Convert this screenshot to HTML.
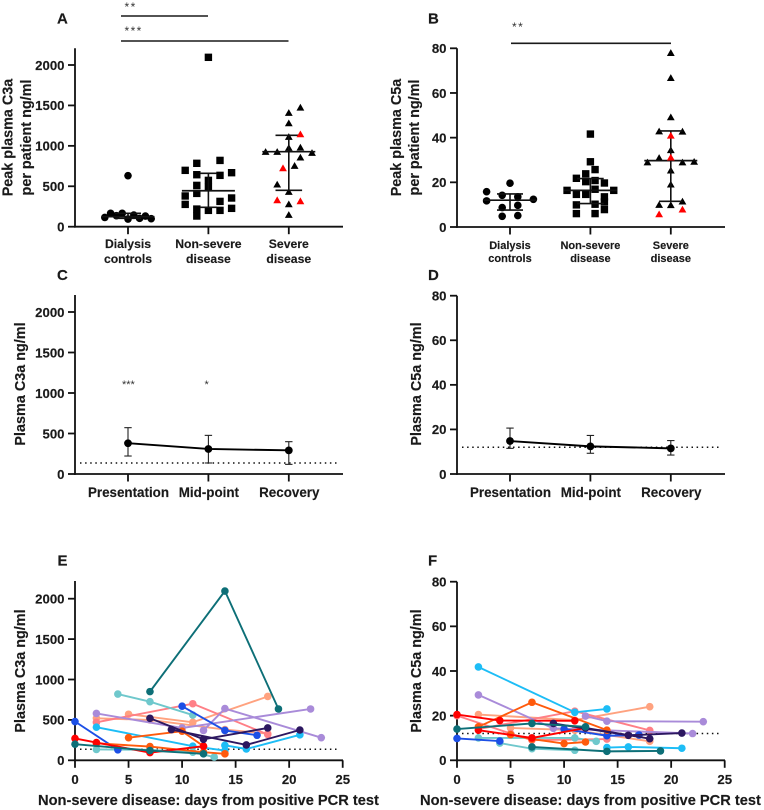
<!DOCTYPE html>
<html lang="en">
<head>
<meta charset="utf-8">
<title>Plasma C3a and C5a panels</title>
<style>
html,body{margin:0;padding:0;background:#fff;}
svg{display:block;font-family:"Liberation Sans",sans-serif;}
text{fill:#1a1a1a;font-weight:bold;stroke:#1a1a1a;stroke-width:.15px;}
.letter{font-size:15px;}
.ytitle{font-size:14.4px;text-anchor:middle;}
.xtitle{font-size:14.65px;}
.stars{font-size:12px;font-weight:normal;letter-spacing:1.4px;fill:#333;stroke:none;}
.stars-tight{font-size:11px;font-weight:normal;fill:#333;stroke:none;}
.tick{font-size:13.2px;}
.cat-a{font-size:12.2px;text-anchor:middle;}
.cat-b{font-size:11px;text-anchor:middle;}
.cat-c{font-size:13.4px;text-anchor:middle;}
</style>
</head>
<body>
<svg id="figure" xmlns="http://www.w3.org/2000/svg" width="764" height="810" viewBox="0 0 764 810">
  <rect width="764" height="810" fill="#fff"/>

  <text class="letter" x="57" y="23.5">A</text>
  <text class="letter" x="428" y="23.5">B</text>
  <text class="letter" x="57" y="280">C</text>
  <text class="letter" x="428" y="280">D</text>
  <text class="letter" x="57.5" y="565.5">E</text>
  <text class="letter" x="428" y="565.5">F</text>

  <text class="ytitle" transform="translate(12.5,137.5) rotate(-90)">Peak plasma C3a</text>
  <text class="ytitle" transform="translate(31,137.5) rotate(-90)">per patient ng/ml</text>
  <text class="ytitle" transform="translate(401,137.5) rotate(-90)">Peak plasma C5a</text>
  <text class="ytitle" transform="translate(419,137.5) rotate(-90)">per patient ng/ml</text>
  <text class="ytitle" transform="translate(25,384) rotate(-90)">Plasma C3a ng/ml</text>
  <text class="ytitle" transform="translate(421,384) rotate(-90)">Plasma C5a ng/ml</text>
  <text class="ytitle" transform="translate(25,671) rotate(-90)">Plasma C3a ng/ml</text>
  <text class="ytitle" transform="translate(421,671) rotate(-90)">Plasma C5a ng/ml</text>

  <text class="xtitle" x="38" y="805">Non-severe disease: days from positive PCR test</text>
  <text class="xtitle" x="420" y="805">Non-severe disease: days from positive PCR test</text>

  <text class="stars" x="124.5" y="11">**</text>
  <line x1="121" y1="16" x2="208" y2="16" stroke="#1a1a1a" stroke-width="1.6"/>
  <text class="stars" x="124.5" y="35">***</text>
  <line x1="121" y1="41" x2="288.5" y2="41" stroke="#1a1a1a" stroke-width="1.6"/>
  <text class="stars" x="512" y="31">**</text>
  <line x1="511" y1="43.3" x2="671" y2="43.3" stroke="#1a1a1a" stroke-width="1.6"/>
  <text class="stars-tight" x="122" y="388">***</text>
  <text class="stars-tight" x="204.5" y="388">*</text>
</svg>

<script>
/* ---------- Shared tick labels and categories ---------- */
const c3aTicks = [0, 500, 1000, 1500, 2000];
const c5aTicks = [0, 20, 40, 60, 80];
const groupLabels = [["Dialysis", "controls"], ["Non-severe", "disease"], ["Severe", "disease"]];
const timepointLabels = ["Presentation", "Mid-point", "Recovery"];
const dayTicks = [0, 5, 10, 15, 20, 25];

/* ---------- Panel A values, listed by swarm lane (left to right) ---------- */
const peakC3aDialysis = [[115], [165], [136], [165], [631, 95], [144], [103], [132], [99]];
const peakC3aNonSevere = [[697, 380, 276], [], [784, 643, 511, 412, 218, 132], [], [2095, 573, 486, 202], [], [820, 635, 313, 202], [], [668, 355, 227]];
const peakC3aSevere = [[928], [], [928, 524], [], [1410, 1282, 1113, 977, 433, 280, 148], [755], [1476, 981, 858], [], [915]];
const peakC3aSevereRed = [[], [], [330], [726], [], [], [318, 1146], [], []];
const peakC3aMedian = [124, 445, 928];
const peakC3aUpper = [165, 660, 1130];
const peakC3aLower = [103, 240, 450];

/* ---------- Panel B values, listed by swarm lane ---------- */
const peakC5aDialysis = [[15.8, 11.7], [], [14.2, 8.7, 4.8], [19.6], [13.5, 9.7, 5.1], [], [12.4]];
const peakC5aNonSevere = [[16.4], [], [21.8, 14.6, 9.9, 6], [], [23.8, 20.3, 14.6], [41.6, 29.2], [25.7, 20.8, 16.9, 10.2, 6], [], [19.7, 13.5, 11.2, 7.8], [], [16.4]];
const peakC5aSevere = [[29], [42.9, 31, 10], [78, 66.8, 49.2, 34.5, 25.4, 19.1, 9.9], [42.8, 29, 11.5], [29.3]];
const peakC5aSevereRed = [[], [5.8], [41, 31.2], [7.9], []];
const peakC5aMedian = [12, 16.4, 29.7];
const peakC5aUpper = [14.8, 21.7, 43];
const peakC5aLower = [7.6, 10.5, 11.5];

/* ---------- Panels C and D ---------- */
const c3aTimeMean = [380, 309, 292];
const c3aTimeUpper = [572, 477, 399];
const c3aTimeLower = [222, 136, 119];
const c3aControlLevel = [136];
const c5aTimeMean = [14.8, 12.4, 11.5];
const c5aTimeUpper = [20.6, 17.3, 15];
const c5aTimeLower = [11.5, 9.3, 8.5];
const c5aControlLevel = [12];

/* ---------- Panel E patient trajectories ---------- */
const c3aDays = [[5,11,18],[2,7,14,18],[2,11,18],[2,10,22],[12,14,23],[2,11,14],[14,16,21],[4,7,11],[2,7,11,13],[0,4],[10,14,17],[5,10,12],[2,7,12,14],[0,2,7,12],[7,12,18],[9,16,21],[7,14,19],[0,7,12]];
const c3aValues = [[570,470,790],[520,500,380,330],[470,700,320],[580,400,635],[370,640,280],[410,175,120],[185,140,315],[820,725,560],[135,130,100,40],[480,130],[670,370,310],[280,360,175],[210,170,100,80],[270,220,95,175],[520,260,400],[380,190,375],[850,2095,635],[200,120,80]];

/* ---------- Panel F patient trajectories ---------- */
const c5aDays = [[2,11,18],[5,11,18],[2,11,18],[0,5,7,14],[2,9,22],[12,14,23],[2,11,14],[14,16,21],[4,7,11],[2,7,11,13],[0,4],[10,14,17],[2,7,14],[5,7,10,12],[2,7,12],[0,4,11],[9,16,21],[12,18],[0,7,12],[7,14,19]];
const c5aValues = [[20.5,18,24],[14.5,13.5,8.5],[14,22,13.4],[20,12,9,9.5],[29.3,14.3,12],[19.8,17.5,17.3],[41.8,21.5,23],[5.7,6,5.4],[7.7,5.2,4.5],[10,10,10,8.5],[9.8,8.6],[14,11,11.3],[15,26,13.5],[11.5,9.5,7.5,8.2],[13.5,10,14.5],[20.5,17.8,17.7],[16.5,11.2,12.2],[14.5,9.7],[14,16.5,15],[6,4,4.2]];

/* ---------- Colours, kept apart from the data ---------- */
const PEACH = "#ffa27f", PINK = "#ff7f86", LAV = "#a98bd9", CYAN = "#1dbdf6", LTEAL = "#6fc8cc",
      BLUE = "#1c4fe6", ORANGE = "#ff5a0c", RED = "#ff0000", DARK = "#2c1760", TEAL = "#0d6f77";
const c3aColors = [PEACH,PEACH,PINK,LAV,LAV,CYAN,CYAN,LTEAL,LTEAL,BLUE,BLUE,ORANGE,ORANGE,RED,DARK,DARK,TEAL,TEAL];
const c5aColors = [PEACH,PEACH,PINK,PINK,LAV,LAV,CYAN,CYAN,LTEAL,LTEAL,BLUE,BLUE,ORANGE,ORANGE,RED,RED,DARK,DARK,TEAL,TEAL];

/* ---------- Drawing helpers ---------- */
const SVG_NS = "http://www.w3.org/2000/svg";
const INK = "#111";
const AXIS_WIDTH = 1.8;
const svg = document.getElementById("figure");

function add(tag, attrs, name) {
  const node = document.createElementNS(SVG_NS, tag);
  for (const key in attrs) node.setAttribute(key, attrs[key]);
  
  
  svg.appendChild(node);
  return node;
}
function label(str, x, y, cls, anchor, name) {
  const node = add("text", { x: x, y: y, class: cls, "text-anchor": anchor }, name);
  node.textContent = str;
  return node;
}
function linearY(y0, yAtTop, topValue) {
  return function (v) { return y0 - (v / topValue) * (y0 - yAtTop); };
}
function bandX(left) {
  return function (i) { return left + 53 + i * 80.4; };
}
function linearX(left, right, maxValue) {
  return function (v) { return left + (v / maxValue) * (right - left); };
}
function drawFrame(key, left, y0, axisTop, y, ticks) {
  add("line", { x1: left, y1: axisTop, x2: left, y2: y0 + 0.9, stroke: INK, "stroke-width": AXIS_WIDTH }, "y-axis-" + key);
  add("line", { x1: left - 0.9, y1: y0, x2: left + 268, y2: y0, stroke: INK, "stroke-width": AXIS_WIDTH }, "x-axis-" + key);
  ticks.forEach(function (t) {
    add("line", { x1: left - 7, y1: y(t), x2: left, y2: y(t), stroke: INK, "stroke-width": AXIS_WIDTH }, "y-tick-" + key + "-" + t);
    label(String(t), left - 10.5, y(t) + 4.8, "tick", "end", "y-tick-label-" + key + "-" + t);
  });
}
function drawXTick(key, x, y0, id) {
  add("line", { x1: x, y1: y0, x2: x, y2: y0 + 7.5, stroke: INK, "stroke-width": AXIS_WIDTH }, "x-tick-" + key + "-" + id);
}
function symbol(shape, x, y, color, name) {
  if (shape === "circle") {
    add("circle", { cx: x, cy: y, r: 3.8, fill: color }, name);
  } else if (shape === "square") {
    add("rect", { x: x - 3.7, y: y - 3.7, width: 7.4, height: 7.4, fill: color }, name);
  } else {
    add("polygon", { points: (x - 3.9) + "," + (y + 3.2) + " " + (x + 3.9) + "," + (y + 3.2) + " " + x + "," + (y - 3.6), fill: color }, name);
  }
}
function drawLanes(key, lanes, center, step, y, shape, color) {
  lanes.forEach(function (values, lane) {
    const x = center + (lane - (lanes.length - 1) / 2) * step;
    values.forEach(function (v, n) {
      symbol(shape, x, y(v), color, "point-" + key + "-" + lane + "-" + n);
    });
  });
}
function drawSummary(key, x, y, median, upper, lower, capHalf) {
  add("line", { x1: x, y1: y(upper), x2: x, y2: y(lower), stroke: INK, "stroke-width": 1.6 }, "iqr-line-" + key);
  add("line", { x1: x - 26.5, y1: y(median), x2: x + 26.5, y2: y(median), stroke: INK, "stroke-width": 1.7 }, "median-line-" + key);
  add("line", { x1: x - capHalf, y1: y(upper), x2: x + capHalf, y2: y(upper), stroke: INK, "stroke-width": 1.6 }, "upper-quartile-" + key);
  add("line", { x1: x - capHalf, y1: y(lower), x2: x + capHalf, y2: y(lower), stroke: INK, "stroke-width": 1.6 }, "lower-quartile-" + key);
}
function drawDotted(key, left, y) {
  add("line", { x1: left + 5, y1: y, x2: left + 263, y2: y, stroke: "#111", "stroke-width": 1.5, "stroke-dasharray": "1.5 3.6" }, "control-level-line-" + key);
}

/* ---------- Panels A and B: group scatter ---------- */
function drawGroups(key, left, y0, axisTop, y, ticks, laneSets, redLanes, steps, medians, uppers, lowers, capHalves, catClass, catLine1, catLine2) {
  drawFrame(key, left, y0, axisTop, y, ticks);
  const x = bandX(left);
  const shapes = ["circle", "square", "triangle"];
  groupLabels.forEach(function (lines, i) {
    drawXTick(key, x(i), y0, i);
    label(lines[0], x(i), catLine1, catClass, "middle", "group-label-" + key + "-" + i + "-line-1");
    label(lines[1], x(i), catLine2, catClass, "middle", "group-label-" + key + "-" + i + "-line-2");
    drawLanes(key + "-group-" + i, laneSets[i], x(i), steps[i], y, shapes[i], "#000");
    drawSummary(key + "-group-" + i, x(i), y, medians[i], uppers[i], lowers[i], capHalves[i]);
  });
  drawLanes(key + "-group-2-red", redLanes, x(2), steps[2], y, "triangle", "#ff0000");
}
drawGroups("a", 75, 226.7, 48.3, linearY(226.7, 65, 2000), c3aTicks,
  [peakC3aDialysis, peakC3aNonSevere, peakC3aSevere], peakC3aSevereRed, [5.8, 5.8, 5.8],
  peakC3aMedian, peakC3aUpper, peakC3aLower, [13, 8.5, 13.3], "cat-a", 248, 263);
drawGroups("b", 457, 227, 48.3, linearY(227, 48.3, 80), c5aTicks,
  [peakC5aDialysis, peakC5aNonSevere, peakC5aSevere], peakC5aSevereRed, [7.8, 4.67, 11.67],
  peakC5aMedian, peakC5aUpper, peakC5aLower, [13, 13.3, 11.7], "cat-b", 249, 262);

/* ---------- Panels C and D: time points ---------- */
function drawTime(key, left, y0, axisTop, y, ticks, mean, upper, lower, control) {
  drawFrame(key, left, y0, axisTop, y, ticks);
  const x = bandX(left);
  drawDotted(key, left, y(control[0]));
  timepointLabels.forEach(function (t, i) {
    drawXTick(key, x(i), y0, i);
    label(t, x(i) + 0.5, 497, "cat-c", "middle", "timepoint-label-" + key + "-" + i);
    add("line", { x1: x(i), y1: y(upper[i]), x2: x(i), y2: y(lower[i]), stroke: "#222", "stroke-width": 1.1 }, "error-bar-" + key + "-" + i);
    add("line", { x1: x(i) - 3.7, y1: y(upper[i]), x2: x(i) + 3.7, y2: y(upper[i]), stroke: "#222", "stroke-width": 1.1 }, "error-cap-upper-" + key + "-" + i);
    add("line", { x1: x(i) - 3.7, y1: y(lower[i]), x2: x(i) + 3.7, y2: y(lower[i]), stroke: "#222", "stroke-width": 1.1 }, "error-cap-lower-" + key + "-" + i);
  });
  const pts = mean.map(function (v, i) { return x(i) + "," + y(v); }).join(" ");
  add("polyline", { points: pts, fill: "none", stroke: "#000", "stroke-width": 1.9 }, "mean-line-" + key);
  mean.forEach(function (v, i) {
    add("circle", { cx: x(i), cy: y(v), r: 3.9, fill: "#000" }, "mean-point-" + key + "-" + i);
  });
}
drawTime("c", 75, 474, 295, linearY(474, 312, 2000), c3aTicks, c3aTimeMean, c3aTimeUpper, c3aTimeLower, c3aControlLevel);
drawTime("d", 457, 474, 295.7, linearY(474, 295.7, 80), c5aTicks, c5aTimeMean, c5aTimeUpper, c5aTimeLower, c5aControlLevel);

/* ---------- Panels E and F: patient trajectories ---------- */
function drawTrajectories(key, left, y0, axisTop, y, ticks, days, values, colors, control) {
  drawFrame(key, left, y0, axisTop, y, ticks);
  const x = linearX(left, left + 267.7, 25);
  dayTicks.forEach(function (d) {
    drawXTick(key, x(d), y0, d);
    label(String(d), x(d), 784, "tick", "middle", "x-tick-label-" + key + "-" + d);
  });
  drawDotted(key, left, y(control[0]));
  days.forEach(function (series, s) {
    const pts = series.map(function (d, i) { return x(d) + "," + y(values[s][i]); }).join(" ");
    add("polyline", { points: pts, fill: "none", stroke: colors[s], "stroke-width": 1.9 }, "patient-line-" + key + "-" + s);
    series.forEach(function (d, i) {
      add("circle", { cx: x(d), cy: y(values[s][i]), r: 3.8, fill: colors[s] }, "patient-point-" + key + "-" + s + "-" + i);
    });
  });
}
drawTrajectories("e", 75, 760.3, 581, linearY(760.3, 598.7, 2000), c3aTicks, c3aDays, c3aValues, c3aColors, c3aControlLevel);
drawTrajectories("f", 457, 760.3, 581.7, linearY(760.3, 581.7, 80), c5aTicks, c5aDays, c5aValues, c5aColors, c5aControlLevel);
</script>
</body>
</html>
